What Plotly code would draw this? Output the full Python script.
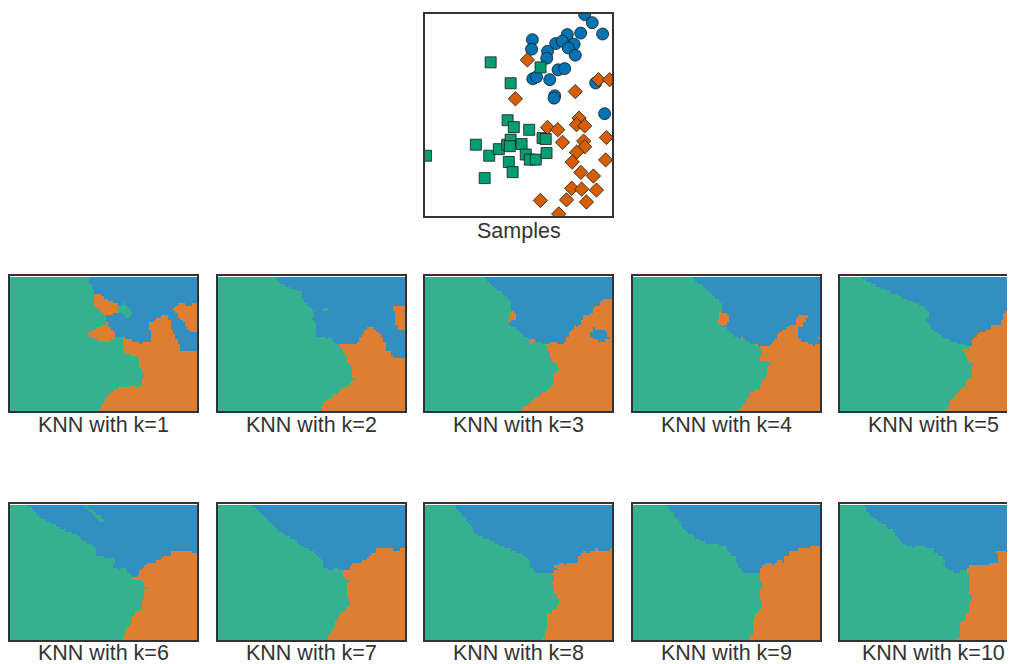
import numpy as np
import plotly.graph_objects as go

# ---------------- data ----------------
blue_x = [8.0, 8.38, 8.9, 7.8, 7.13, 5.38, 5.34, 6.55, 6.88, 7.47, 7.18, 7.53, 6.14, 6.1,
          6.67, 7.0, 5.4, 5.59, 6.25, 6.5, 6.47, 8.55, 9.0]
blue_y = [6.75, 6.48, 6.10, 6.13, 6.08, 5.91, 5.59, 5.78, 5.86, 5.76, 5.63, 5.39, 5.52, 5.29,
          4.90, 4.94, 4.60, 4.66, 4.57, 4.03, 3.95, 4.46, 3.43]

green_x = [3.29, 4.29, 5.79, 4.14, 4.45, 5.22, 2.55, 0.05, 3.22, 3.7, 4.12, 4.29, 4.25, 4.84,
           5.05, 5.25, 5.55, 6.09, 5.89, 6.05, 4.2, 4.39, 2.99]
green_y = [5.15, 4.45, 4.98, 3.21, 2.98, 2.89, 2.39, 2.02, 2.02, 2.24, 2.39, 2.56, 2.34, 2.41,
           2.06, 1.89, 1.89, 2.11, 2.61, 2.58, 1.81, 1.47, 1.27]

orange_x = [5.13, 4.53, 7.53, 8.7, 9.25, 7.72, 7.59, 8.0, 6.14, 6.65, 6.89, 7.95, 8.0, 7.6,
            7.38, 9.09, 9.05, 7.81, 8.44, 7.35, 7.85, 8.59, 7.09, 8.09, 5.78, 6.7]
orange_y = [5.23, 3.93, 4.17, 4.57, 4.57, 3.28, 3.06, 3.02, 2.97, 2.89, 2.47, 2.51, 2.32, 2.14,
            1.81, 2.63, 1.88, 1.46, 1.34, 0.93, 0.90, 0.87, 0.54, 0.47, 0.52, 0.07]

k_values = [1, 2, 3, 4, 5, 6, 7, 8, 9, 10]
class_names = ["blue", "green", "orange"]

X_RANGE = [0.0, 9.37]
Y_RANGE = [0.0, 6.77]

# ---------------- style ----------------
COL = ["#0173b2", "#029e73", "#d55e00"]
SYMBOLS = ["circle", "square", "diamond"]
SIZES = [12, 11, 11]
FRAME = "#333333"
TXT = "#333333"
FONT = "Liberation Sans, Arial, sans-serif"
FS = 21.5
OFF = 8                    # page body margin
WIN_W, WIN_H = 1015, 664
W, H = WIN_W - OFF, WIN_H - OFF


def px(x):
    return (x - OFF) / W


def py(y):
    return 1 - (y - OFF) / H


# ---------------- KNN on a grid ----------------
pts = np.column_stack([blue_x + green_x + orange_x, blue_y + green_y + orange_y])
lab = np.array([0] * len(blue_x) + [1] * len(green_x) + [2] * len(orange_x))

h = 0.12
gx = np.arange(X_RANGE[0] + h / 2, X_RANGE[1], h)
gy = np.arange(Y_RANGE[0] + h / 2, Y_RANGE[1], h)
GX, GY = np.meshgrid(gx, gy)
P = np.column_stack([GX.ravel(), GY.ravel()])
d = ((P[:, None, :] - pts[None, :, :]) ** 2).sum(-1)
order = np.argsort(d, axis=1, kind="stable")


def knn_predict(k):
    nn = lab[order[:, :k]]
    counts = np.stack([(nn == c).sum(1) for c in range(3)], 1)
    return counts.argmax(1).reshape(GX.shape)


fig = go.Figure()

# ---------------- sample scatter ----------------
sx0, sx1 = px(425), px(612)
sy0, sy1 = py(216), py(14)
fig.update_layout(
    xaxis=dict(domain=[sx0, sx1], range=X_RANGE, showticklabels=False, ticks="",
               showgrid=False, zeroline=False, showline=True, mirror=True,
               linecolor=FRAME, linewidth=1.5),
    yaxis=dict(domain=[sy0, sy1], range=Y_RANGE, showticklabels=False, ticks="",
               showgrid=False, zeroline=False, showline=True, mirror=True,
               linecolor=FRAME, linewidth=1.5, anchor="x"),
)
for xs, ys, c, s, sz, n in zip([blue_x, green_x, orange_x], [blue_y, green_y, orange_y],
                               COL, SYMBOLS, SIZES, class_names):
    fig.add_trace(go.Scatter(x=xs, y=ys, mode="markers", name=n, showlegend=False,
                             marker=dict(color=c, symbol=s, size=sz,
                                         line=dict(color="#1a1a1a", width=0.8)),
                             xaxis="x", yaxis="y", cliponaxis=True))

annotations = [dict(text="Samples", x=(sx0 + sx1) / 2, y=py(231), xref="paper",
                    yref="paper", showarrow=False, xanchor="center", yanchor="middle",
                    font=dict(size=FS, color=TXT, family=FONT))]

# ---------------- KNN maps ----------------
col_left = [10, 218, 425, 633, 840]
map_w = 187
rows = [(276, 411, 425), (504, 640, 653)]
cscale = [[0.0, COL[0]], [0.5, COL[1]], [1.0, COL[2]]]

for i, k in enumerate(k_values):
    r, c = divmod(i, 5)
    top, bot, lab_y = rows[r]
    x0 = col_left[c]
    x1 = min(x0 + map_w, WIN_W)
    frac = (x1 - x0) / map_w
    ax_id = i + 2
    xa, ya = f"xaxis{ax_id}", f"yaxis{ax_id}"
    xrange = [X_RANGE[0], X_RANGE[0] + (X_RANGE[1] - X_RANGE[0]) * frac]
    fig.update_layout(**{
        xa: dict(domain=[px(x0), px(x1)], range=xrange, showticklabels=False, ticks="",
                 showgrid=False, zeroline=False, showline=True, mirror=True,
                 linecolor=FRAME, linewidth=1.5, anchor=f"y{ax_id}"),
        ya: dict(domain=[py(bot), py(top)], range=Y_RANGE, showticklabels=False,
                 ticks="", showgrid=False, zeroline=False, showline=True,
                 mirror=(x1 - x0 >= map_w), linecolor=FRAME, linewidth=1.5,
                 anchor=f"x{ax_id}"),
    })
    z = knn_predict(k)
    fig.add_trace(go.Heatmap(x=gx, y=gy, z=z, colorscale=cscale, zmin=0, zmax=2,
                             showscale=False, opacity=0.8, hoverinfo="skip",
                             xaxis=f"x{ax_id}", yaxis=f"y{ax_id}"))
    annotations.append(dict(text=f"KNN with k={k}", x=px(x0 + map_w / 2),
                            y=py(lab_y), xref="paper", yref="paper", showarrow=False,
                            xanchor="center", yanchor="middle",
                            font=dict(size=FS, color=TXT, family=FONT)))

fig.update_layout(width=W, height=H, margin=dict(l=0, r=0, t=0, b=0),
                  paper_bgcolor="white", plot_bgcolor="white",
                  annotations=annotations, showlegend=False)

fig.write_html("out.html")
